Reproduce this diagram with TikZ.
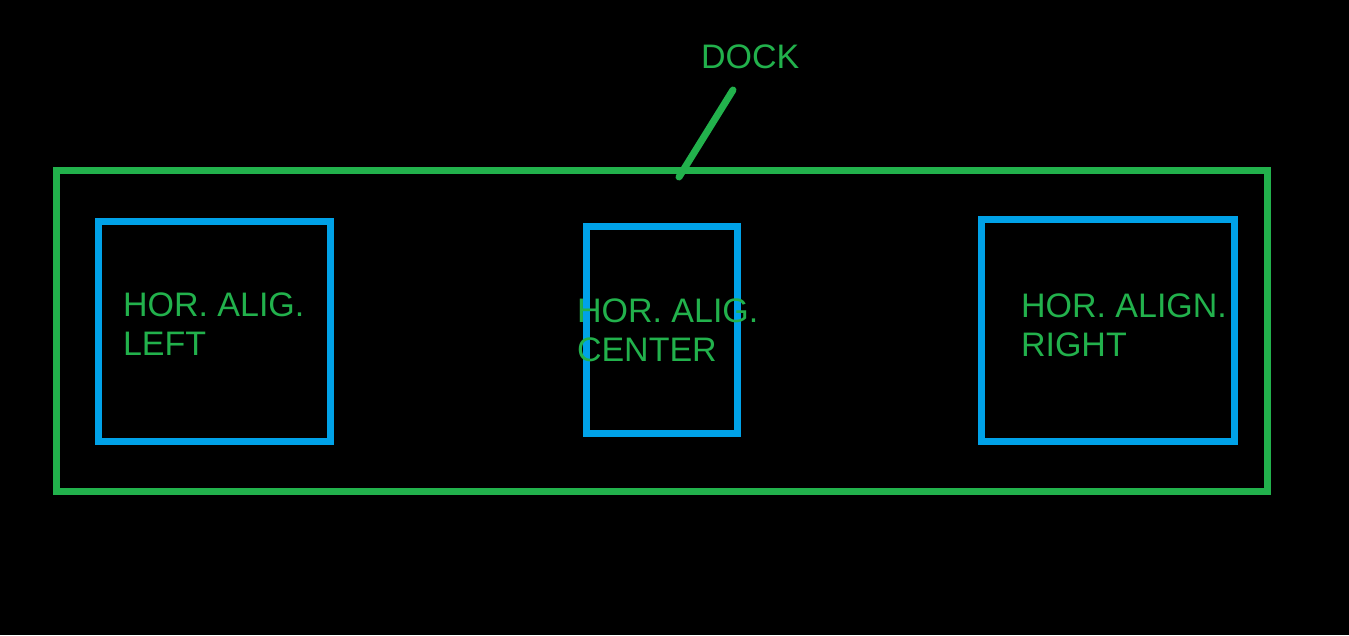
\documentclass[tikz,border=0pt]{standalone}
\usepackage{fontspec}
\setmainfont{Liberation Sans}
\definecolor{paintgreen}{HTML}{22B14C}
\definecolor{paintblue}{HTML}{00A2E8}
\begin{document}
\begin{tikzpicture}[x=1pt,y=-1pt,
  frame/.style={draw, rectangle, inner sep=0pt, outer sep=0pt, line width=7pt, line join=miter},
  dockframe/.style={frame, draw=paintgreen},
  boxframe/.style={frame, draw=paintblue},
  lbl/.style={text=paintgreen, inner sep=0pt, outer sep=0pt, anchor=north west, align=left, font=\fontsize{34}{39}\selectfont},
  leader/.style={draw=paintgreen, line width=7pt, line cap=round}]
\fill[black] (0,0) rectangle (1349,635);
\useasboundingbox (0,0) rectangle (1349,635);
\node[dockframe, minimum width=1211pt, minimum height=321pt] (dock) at (662,331) {};
\node[boxframe, minimum width=232pt, minimum height=220pt] (left) at (214,331) {};
\node[boxframe, minimum width=150.5pt, minimum height=207pt] (center) at (661.75,329.5) {};
\node[boxframe, minimum width=253pt, minimum height=222pt] (right) at (1108,330.5) {};
\node[lbl, font=\fontsize{34}{38}\selectfont] (docklbl) at (701,45) {DOCK};
\node[lbl] (lefttxt) at (123,293) {HOR. ALIG.\\LEFT};
\node[lbl] (centertxt) at (577,299) {HOR. ALIG.\\CENTER};
\node[lbl] (righttxt) at (1021,294) {HOR. ALIGN.\\RIGHT};
\coordinate (leadA) at (679,177);
\coordinate (leadB) at (733,90);
\draw[leader] (leadA) -- (leadB);
\end{tikzpicture}
\end{document}
